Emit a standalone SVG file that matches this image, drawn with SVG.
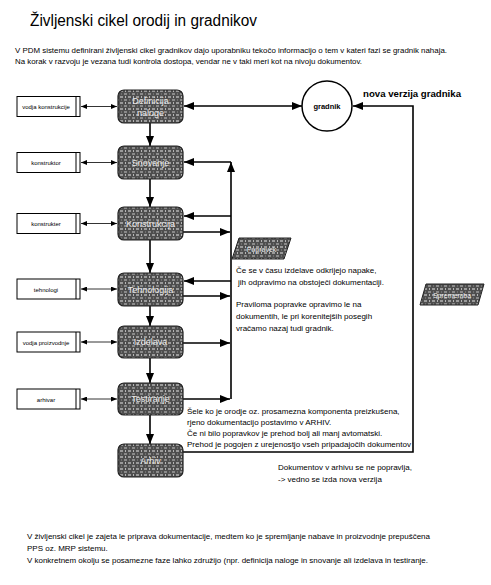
<svg xmlns="http://www.w3.org/2000/svg" width="491" height="585" viewBox="0 0 491 585">
<style>
text{font-family:"Liberation Sans",Arial,sans-serif;fill:#000}
.t{font-size:8px}
.a{font-size:6px}
.n{font-size:9px;fill:#e8e8e8;text-anchor:middle}
.act{fill:#fff;stroke:#000;stroke-width:1}
.node{fill:url(#tex);stroke:#222;stroke-width:1.2}
.c{fill:none;stroke:#000;stroke-width:1.6}
.thin{fill:none;stroke:#000;stroke-width:0.8}
</style>
<defs>
<pattern id="tex" width="8" height="6" patternUnits="userSpaceOnUse">
<rect width="8" height="6" fill="#4e4e4e"/>
<rect x="0" y="0" width="3" height="2" fill="#9a9a9a"/>
<rect x="4" y="3" width="3" height="2" fill="#8a8a8a"/>
<rect x="5" y="0" width="1" height="2" fill="#b5b5b5"/>
<rect x="1" y="3" width="1" height="2" fill="#707070"/>
</pattern>
<marker id="ah" viewBox="0 0 10 8" refX="10" refY="4" markerWidth="10" markerHeight="8" markerUnits="userSpaceOnUse" orient="auto-start-reverse">
<path d="M0,0 L10,4 L0,8 z" fill="#000"/>
</marker>
<marker id="as" viewBox="0 0 6 5" refX="6" refY="2.5" markerWidth="6" markerHeight="5" markerUnits="userSpaceOnUse" orient="auto-start-reverse">
<path d="M0,0 L6,2.5 L0,5 z" fill="#000"/>
</marker>
</defs>

<text x="30" y="26" font-size="16" textLength="227" lengthAdjust="spacingAndGlyphs">Življenski cikel orodij in gradnikov</text>
<text class="t" x="15" y="53" textLength="432" lengthAdjust="spacingAndGlyphs">V PDM sistemu definirani življenski cikel gradnikov  dajo uporabniku tekočo informacijo o tem v kateri fazi se gradnik nahaja.</text>
<text class="t" x="15" y="64" textLength="347" lengthAdjust="spacingAndGlyphs">Na korak v razvoju je vezana  tudi kontrola dostopa, vendar ne v taki meri kot na nivoju dokumentov.</text>

<g id="connectors">
<line class="c" x1="184" y1="106" x2="302" y2="106" marker-start="url(#ah)" marker-end="url(#ah)"/>
<line class="c" x1="150" y1="123" x2="150" y2="146" marker-end="url(#ah)"/>
<line class="c" x1="150" y1="179" x2="150" y2="207" marker-end="url(#ah)"/>
<line class="c" x1="150" y1="240" x2="150" y2="273" marker-end="url(#ah)"/>
<line class="c" x1="150" y1="306" x2="150" y2="326" marker-end="url(#ah)"/>
<line class="c" x1="150" y1="358" x2="150" y2="383" marker-end="url(#ah)"/>
<line class="c" x1="150" y1="415" x2="150" y2="444" marker-end="url(#ah)"/>
<line class="thin" x1="81" y1="106.5" x2="117" y2="106.5" marker-start="url(#as)" marker-end="url(#as)"/>
<line class="thin" x1="81" y1="162.5" x2="117" y2="162.5" marker-start="url(#as)" marker-end="url(#as)"/>
<line class="thin" x1="81" y1="223.5" x2="117" y2="223.5" marker-start="url(#as)" marker-end="url(#as)"/>
<line class="thin" x1="81" y1="289" x2="117" y2="289" marker-start="url(#as)" marker-end="url(#as)"/>
<line class="thin" x1="81" y1="342" x2="117" y2="342" marker-start="url(#as)" marker-end="url(#as)"/>
<line class="thin" x1="81" y1="399" x2="117" y2="399" marker-start="url(#as)" marker-end="url(#as)"/>
<path class="c" d="M231,399 V162" marker-end="url(#ah)"/>
<path class="c" d="M231,162 H184" marker-end="url(#ah)"/>
<path class="c" d="M231,216 H184" marker-end="url(#ah)"/>
<path class="c" d="M183,232 H230" marker-end="url(#ah)"/>
<path class="c" d="M231,281 H184" marker-end="url(#ah)"/>
<path class="c" d="M183,296 H230" marker-end="url(#ah)"/>
<path class="c" d="M183,343 H230" marker-end="url(#ah)"/>
<path class="c" d="M183,399 H230" marker-end="url(#ah)"/>
<path class="c" d="M183,452 H413 V106 H353" marker-end="url(#ah)"/>
</g>

<g id="actor-vodja-konstrukcije"><rect class="act" x="17" y="96.5" width="63" height="20"/><line class="act" x1="76" y1="96.5" x2="76" y2="116.5"/><text class="a" x="46" y="109" text-anchor="middle">vodja konstrukcije</text></g>
<g id="actor-konstruktor"><rect class="act" x="17" y="152.5" width="63" height="20"/><line class="act" x1="76" y1="152.5" x2="76" y2="172.5"/><text class="a" x="46" y="165" text-anchor="middle">konstruktor</text></g>
<g id="actor-konstrukter"><rect class="act" x="17" y="213.5" width="63" height="20"/><line class="act" x1="76" y1="213.5" x2="76" y2="233.5"/><text class="a" x="46" y="226" text-anchor="middle">konstrukter</text></g>
<g id="actor-tehnologi"><rect class="act" x="17" y="279" width="63" height="20"/><line class="act" x1="76" y1="279" x2="76" y2="299"/><text class="a" x="46" y="291.5" text-anchor="middle">tehnologi</text></g>
<g id="actor-vodja-proizvodnje"><rect class="act" x="17" y="332" width="63" height="20"/><line class="act" x1="76" y1="332" x2="76" y2="352"/><text class="a" x="46" y="344.5" text-anchor="middle">vodja proizvodnje</text></g>
<g id="actor-arhivar"><rect class="act" x="17" y="389" width="63" height="20"/><line class="act" x1="76" y1="389" x2="76" y2="409"/><text class="a" x="46" y="401.5" text-anchor="middle">arhivar</text></g>

<g id="node-definicija"><rect class="node" x="118" y="90" width="65" height="33" rx="6"/><text class="n" x="150.5" y="104">Definicija</text><text class="n" x="150.5" y="116">naloge</text></g>
<g id="node-snovanje"><rect class="node" x="118" y="146" width="65" height="33" rx="6"/><text class="n" x="150.5" y="166">Snovanje</text></g>
<g id="node-konstrukcija"><rect class="node" x="118" y="207" width="65" height="33" rx="6"/><text class="n" x="150.5" y="227">Konstrukcija</text></g>
<g id="node-tehnologija"><rect class="node" x="118" y="273" width="65" height="33" rx="6"/><text class="n" x="150.5" y="293">Tehnologija</text></g>
<g id="node-izdelava"><rect class="node" x="118" y="326" width="65" height="32" rx="6"/><text class="n" x="150.5" y="345">Izdelava</text></g>
<g id="node-testiranje"><rect class="node" x="118" y="383" width="65" height="32" rx="6"/><text class="n" x="150.5" y="402">Testiranje</text></g>
<g id="node-arhiv"><rect class="node" x="118" y="444" width="65" height="33" rx="6"/><text class="n" x="150.5" y="464">Arhiv</text></g>

<g id="node-gradnik"><circle cx="327" cy="106" r="25" fill="#fff" stroke="#000" stroke-width="1.5"/><text x="327" y="109" font-size="7.5" font-weight="bold" text-anchor="middle">gradnik</text></g>
<text x="363" y="97" font-size="9.5" font-weight="bold" textLength="98" lengthAdjust="spacingAndGlyphs">nova verzija gradnika</text>

<g id="node-popravek"><polygon points="239,238 291,238 284,259 232,259" fill="url(#tex)" stroke="#222" stroke-width="1"/><text x="261.5" y="251.5" font-size="7" fill="#e8e8e8" text-anchor="middle" style="fill:#e8e8e8">Popravek</text></g>
<g id="node-sprememba"><polygon points="426,284 484,284 478,305 420,305" fill="url(#tex)" stroke="#222" stroke-width="1"/><text x="452" y="297.5" font-size="7" text-anchor="middle" style="fill:#e8e8e8">Sprememba</text></g>

<text class="t" x="236" y="273">Če se v času izdelave odkrijejo napake,</text>
<text class="t" x="238" y="285">jih odpravimo na obstoječi dokumentaciji.</text>
<text class="t" x="236" y="307">Praviloma popravke opravimo le na</text>
<text class="t" x="236" y="319">dokumentih, le pri korenitejših posegih</text>
<text class="t" x="236" y="331">vračamo nazaj tudi gradnik.</text>

<text class="t" x="187" y="414">Šele ko je orodje oz. prosamezna komponenta preizkušena,</text>
<text class="t" x="187" y="425">rjeno dokumentacijo postavimo v ARHIV.</text>
<text class="t" x="187" y="436">Če ni bilo popravkov je prehod bolj ali manj avtomatski.</text>
<text class="t" x="187" y="447" textLength="224" lengthAdjust="spacingAndGlyphs">Prehod je pogojen z urejenostjo vseh pripadajočih dokumentov</text>
<text class="t" x="278" y="470">Dokumentov v arhivu se ne popravlja,</text>
<text class="t" x="278" y="482">-&gt; vedno se izda nova verzija</text>

<text class="t" x="27" y="539" textLength="403" lengthAdjust="spacingAndGlyphs">V življenski cikel je zajeta le priprava dokumentacije, medtem ko je spremljanje  nabave in proizvodnje prepuščena</text>
<text class="t" x="27" y="551">PPS oz. MRP sistemu.</text>
<text class="t" x="27" y="563" textLength="401" lengthAdjust="spacingAndGlyphs">V konkretnem okolju se posamezne faze lahko združijo (npr. definicija naloge in snovanje ali izdelava in testiranje.</text>
</svg>
